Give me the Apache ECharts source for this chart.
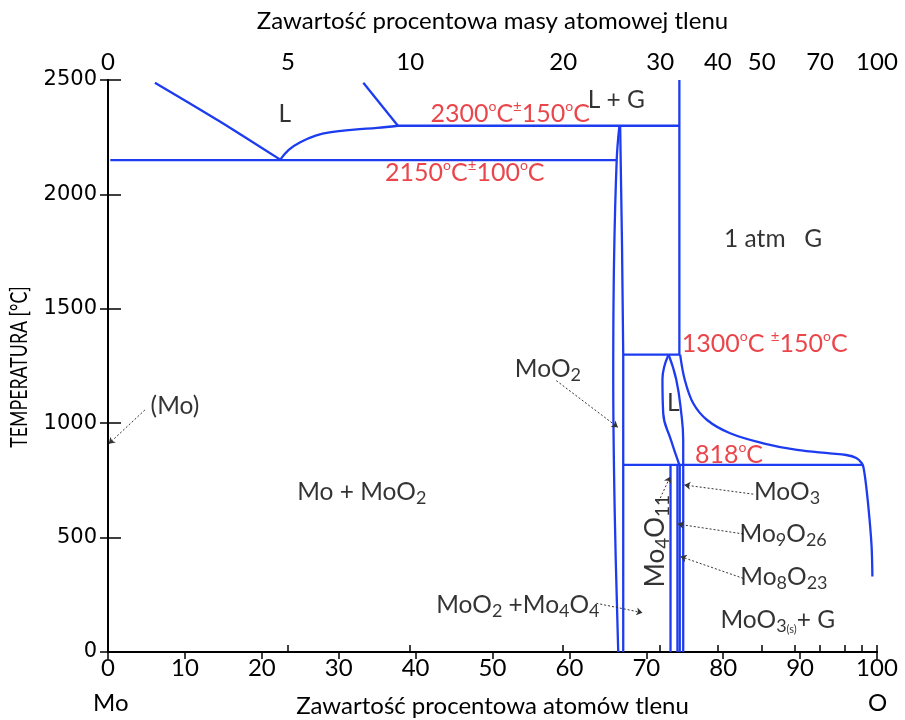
<!DOCTYPE html>
<html><head><meta charset="utf-8">
<script src="https://cdn.jsdelivr.net/npm/echarts@6/dist/echarts.min.js"></script>
<style>html,body{margin:0;padding:0;background:#fff}#c{width:905px;height:720px}</style>
</head><body><div id="c"></div>
<script>
// ---------- data (atomic % O, temperature °C) ----------
const topTickPos    = [0, 23.4, 39.3, 59.2, 71.8, 79.3, 85.0, 89.3, 92.6, 95.8, 98.0, 100];
const topTickLabels = ['0','5','10','20','30','40','50','','70','','','100'];

const leftLiquidus   = [[6.1,2488],[14.5,2320],[22.4,2152]];
const eutecticCurve  = [[22.4,2152],[23.5,2195],[25,2228],[27,2257],[29,2272],[32,2283],[35,2291],[37.7,2300]];
const rightLiquidus  = [[33.2,2488],[37.7,2300]];
const line2300       = [[37.7,2300],[74.3,2300]];
const line2150       = [[0.3,2150],[66.15,2150]];
const lgBoundary     = [[74.3,2500],[74.3,1300]];
const moo2Left       = [[66.5,2300],[66.15,2150],[65.8,1700],[65.7,1200],[65.9,600],[66.35,0]];
const moo2Right      = [[66.6,2300],[67.0,1300],[67.0,0]];
const line1300       = [[67.0,1300],[74.4,1300]];
const line818        = [[67.1,818],[98.2,818]];
const gasCurve       = [[74.4,1300],[75.0,1190],[76.1,1087],[77.9,1014],[80.9,956],[85.2,912],[89.6,883],[93.9,868],[96.0,861],[97.3,848],[98.0,826],[98.25,805],[98.6,723],[99.0,591],[99.3,460],[99.4,330]];
const lensLeft       = [[72.9,1300],[72.1,1190],[72.2,1043],[73.2,927],[74.3,818]];
const lensRight      = [[72.9,1300],[73.9,1190],[74.55,1043],[74.8,927],[74.8,818]];
const mo4o11Line     = [[73.15,818],[73.15,0]];
const mo9o26Line     = [[74.05,818],[74.05,0]];
const mo8o23Line     = [[74.35,818],[74.35,0]];
const moo3Line       = [[74.8,818],[74.8,0]];

const boundaryLines = [
  {d:leftLiquidus, s:0.2}, {d:eutecticCurve, s:0.4}, {d:rightLiquidus, s:0},
  {d:line2300, s:0}, {d:line2150, s:0}, {d:lgBoundary, s:0},
  {d:moo2Left, s:0.4}, {d:moo2Right, s:0.2}, {d:line1300, s:0}, {d:line818, s:0},
  {d:gasCurve, s:0.35}, {d:lensLeft, s:0.45}, {d:lensRight, s:0.45},
  {d:mo4o11Line, s:0}, {d:mo9o26Line, s:0}, {d:mo8o23Line, s:0}, {d:moo3Line, s:0}
];

// annotation anchors (data coords) and texts
const annotations = [
  {p:[23.0,2350], t:'{k|L}'},
  {p:[52.3,2350], t:'{r|2300}{rs|o}{r|C}{rp|±}{r|150}{rs|o}{r|C}'},
  {p:[66.1,2410], t:'{k|L + G}'},
  {p:[46.4,2092], t:'{r|2150}{rs|o}{r|C}{rp|±}{r|100}{rs|o}{r|C}'},
  {p:[86.5,1805], t:'{k|1 atm   G}'},
  {p:[85.4,1345], t:'{r|1300}{rs|o}{r|C }{rp|±}{r|150}{rs|o}{r|C}'},
  {p:[57.2,1236], t:'{k|MoO}{sb|2}'},
  {p:[8.7,1076],  t:'{k|(Mo)}'},
  {p:[73.5,1086], t:'{k|L}'},
  {p:[80.75,860], t:'{r|818}{rs|o}{r|C}'},
  {p:[33.0,697],  t:'{k|Mo + MoO}{sb|2}'},
  {p:[71.25,485], t:'{kb|Mo}{sbb|4}{kb|O}{sbb|11}', rot:90},
  {p:[88.3,699],  t:'{k|MoO}{sb|3}'},
  {p:[87.8,516],  t:'{k|Mo}{sb|9}{k|O}{sb|26}'},
  {p:[87.9,326],  t:'{k|Mo}{sb|8}{k|O}{sb|23}'},
  {p:[53.3,205],  t:'{k|MoO}{sb|2}{k| +Mo}{sb|4}{k|O}{sb|4}'},
  {p:[87.1,138],  t:'{k|MoO}{sb|3}{ss|(s)}{k|+ G}'}
];

// dotted arrows [from, to]
const arrows = [
  [[4.8,1058],[0.1,910]],
  [[58.3,1186],[66.3,982]],
  [[71.6,657],[73.1,766]],
  [[83.9,690],[74.95,730]],
  [[82.6,516],[74.1,559]],
  [[82.6,322],[74.45,417]],
  [[63.5,213],[69.5,172]]
];

// ---------- chart ----------
const FONT = 'Lato';
const BLUE = '#1d3cf0';
const RED = '#e5161d';
const INK = '#000';
const chart = echarts.init(document.getElementById('c'), null, {renderer:'canvas'});

const rich = {
  k:   {fontFamily:FONT, fontSize:24.5, color:INK, lineHeight:30},
  sb:  {fontFamily:FONT, fontSize:18, color:INK, verticalAlign:'bottom', lineHeight:22},
  ss:  {fontFamily:FONT, fontSize:11, color:INK, verticalAlign:'bottom', lineHeight:17},
  kb:  {fontFamily:FONT, fontSize:26, color:INK, lineHeight:32},
  sbb: {fontFamily:FONT, fontSize:19, color:INK, verticalAlign:'bottom', lineHeight:28},
  r:   {fontFamily:FONT, fontSize:25, color:RED, lineHeight:30},
  rs:  {fontFamily:FONT, fontSize:14, color:RED, verticalAlign:'top', lineHeight:20},
  rp:  {fontFamily:FONT, fontSize:15, color:RED, verticalAlign:'top', lineHeight:21}
};

const axisCommon = {
  type:'value', min:0, max:100,
  axisLine:{show:true, lineStyle:{color:'#000', width:2}},
  axisTick:{show:true, inside:false, length:7, lineStyle:{color:'#000', width:1.5}},
  splitLine:{show:false}
};

const series = boundaryLines.map(b => ({
  type:'line', data:b.d, showSymbol:false, symbol:'none', smooth:b.s,
  lineStyle:{color:BLUE, width:2.3}, xAxisIndex:0, yAxisIndex:0, z:3, silent:true
}));

series.push({
  type:'lines', coordinateSystem:'cartesian2d', xAxisIndex:0, yAxisIndex:0,
  symbol:['none','arrow'], symbolSize:6, silent:true, z:4,
  lineStyle:{color:'#333', width:1, type:[2,2], opacity:1},
  data: arrows.map(a => ({coords:a}))
});

series.push({
  type:'scatter', xAxisIndex:0, yAxisIndex:0, symbolSize:1, silent:true, z:5,
  itemStyle:{color:'rgba(0,0,0,0)'},
  data: annotations.map(a => ({
    value:a.p,
    label:{show:true, position:'inside', formatter:a.t, rich:rich, rotate:a.rot || 0}
  }))
});

chart.setOption({
  animation:false,
  backgroundColor:'#fff',
  grid:{left:108, right:28, top:80, bottom:68, containLabel:false, outerBoundsMode:'none'},
  xAxis:[
    Object.assign({}, axisCommon, {
      position:'bottom', interval:10,
      name:'Zawartość procentowa atomów tlenu', nameLocation:'middle', nameGap:42,
      nameTextStyle:{fontFamily:FONT, fontSize:24, color:INK},
      axisLabel:{fontFamily:FONT, fontSize:24, color:INK, margin:4}
    }),
    Object.assign({}, axisCommon, {
      position:'top',
      name:'Zawartość procentowa masy atomowej tlenu', nameLocation:'middle', nameGap:47,
      nameTextStyle:{fontFamily:FONT, fontSize:24, color:INK},
      axisTick:{show:true, inside:false, length:7, lineStyle:{color:'#000', width:1.5}, customValues:topTickPos},
      axisLabel:{fontFamily:FONT, fontSize:24, color:INK, margin:6,
        customValues: topTickPos.filter((v,i)=>topTickLabels[i] !== ''),
        formatter: v => { let i = topTickPos.findIndex(p => Math.abs(p - v) < 1e-6); return i >= 0 ? topTickLabels[i] : ''; }
      }
    })
  ],
  yAxis:[
    {
      type:'value', min:0, max:2500, interval:500, position:'left',
      axisLine:{show:true, lineStyle:{color:'#000', width:2}},
      axisTick:{show:true, inside:false, length:8, lineStyle:{color:'#000', width:1.5}},
      splitLine:{show:false},
      axisLabel:{fontFamily:'DejaVu Sans', fontSize:21, color:INK, margin:11, formatter: v => String(v)}
    },
    {
      type:'value', min:0, max:2500, interval:500, position:'right',
      axisLine:{show:true, lineStyle:{color:'#000', width:2}},
      axisTick:{show:true, inside:false, length:13, lineStyle:{color:'#000', width:1.5}},
      splitLine:{show:false}, axisLabel:{show:false}
    }
  ],
  graphic:[
    {type:'text', left:93, top:691, style:{text:'Mo', font:'24px Lato', fill:INK}},
    {type:'text', left:868, top:691, style:{text:'O', font:'24px Lato', fill:INK}},
    {type:'text', x:19, y:367, rotation:Math.PI/2, scaleX:0.74,
     style:{text:'TEMPERATURA [°C]', font:'24px Lato', fill:INK, align:'center', verticalAlign:'middle'}}
  ],
  series: series
});
</script>
</body></html>
